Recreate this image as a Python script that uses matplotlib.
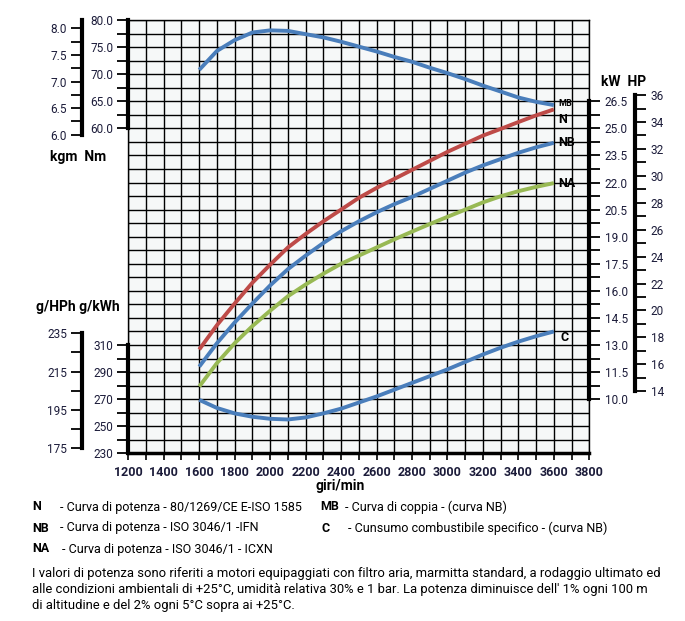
import numpy as np
import matplotlib.pyplot as plt

plt.rcParams['font.family'] = ['Liberation Sans Narrow', 'Roboto', 'DejaVu Sans']

# giri/min
rpm = [1600, 1700, 1800, 1900, 2000, 2100, 2200, 2300, 2400, 2500, 2600,
       2700, 2800, 2900, 3000, 3100, 3200, 3300, 3400, 3500, 3600]

# MB - coppia (Nm)
torque_mb = [70.8, 74.3, 76.3, 77.7, 78.1, 78.0, 77.4, 76.8, 76.0, 75.1, 74.2,
             73.2, 72.3, 71.2, 70.2, 69.1, 67.9, 66.8, 65.7, 64.9, 64.3]

# potenza (kW)
power_n = [12.75, 14.1, 15.3, 16.45, 17.45, 18.4, 19.15, 19.85, 20.5, 21.15, 21.7,
           22.2, 22.7, 23.2, 23.7, 24.15, 24.6, 24.97, 25.35, 25.72, 26.05]
power_nb = [11.8, 13.1, 14.25, 15.3, 16.3, 17.2, 17.95, 18.65, 19.3, 19.85, 20.35,
            20.8, 21.2, 21.65, 22.1, 22.55, 22.95, 23.3, 23.65, 23.95, 24.2]
power_na = [10.7, 12.0, 13.1, 14.05, 14.9, 15.7, 16.35, 16.95, 17.5, 17.95, 18.4,
            18.85, 19.28, 19.7, 20.1, 20.5, 20.9, 21.24, 21.52, 21.76, 21.97]

# C - consumo specifico (g/kWh)
consumo_c = [269.5, 263.5, 259.5, 257.0, 255.5, 255.0, 256.5, 259.5, 263.0, 267.5, 272.0,
             277.0, 282.0, 287.0, 292.0, 297.5, 303.0, 308.0, 312.5, 316.5, 320.0]

blue = '#4a7ebb'
red = '#be4b48'
green = '#98b954'
txt = '#1c1c3a'

fig = plt.figure(figsize=(6.85, 6.21), dpi=100)
box = [0.1873, 0.2700, 0.6730, 0.6977]

# grid
ax = fig.add_axes(box)
ax.set_facecolor('#f6f8f8')
ax.set_xlim(1200, 3800)
ax.set_ylim(0, 32)
xt = list(range(1200, 3801, 100))
ax.set_xticks(xt)
ax.set_xticklabels([str(v) if v % 200 == 0 else '' for v in xt],
                   fontweight='bold', fontsize=9, color=txt)
ax.set_yticks(range(0, 33))
ax.tick_params(axis='y', length=0, labelleft=False)
ax.tick_params(axis='x', length=5, width=1.2, pad=4)
ax.grid(True, color='black', lw=1.0)
for s in ax.spines.values():
    s.set_linewidth(1.0)
ax.spines['bottom'].set_linewidth(2.5)


def overlay(rect, ylim, side, bounds, ticks, labels):
    a = fig.add_axes(rect, facecolor='none')
    a.set_xlim(1200, 3800)
    a.set_ylim(*ylim)
    a.xaxis.set_visible(False)
    for k in ['top', 'bottom', 'left', 'right']:
        a.spines[k].set_visible(k == side)
    a.spines[side].set_bounds(*bounds)
    a.spines[side].set_linewidth(3)
    if side == 'right':
        a.yaxis.tick_right()
    a.set_yticks(ticks)
    a.set_yticklabels(labels)
    a.tick_params(axis='y', length=8, width=1.3, pad=3, labelsize=8.5, labelcolor=txt)
    return a


# Nm
nm_ticks = np.arange(60, 80.1, 2.5)
ax_nm = overlay(box, (0, 80), 'left', (60, 80), nm_ticks,
                [f'{v:.1f}' if v % 5 == 0 else '' for v in nm_ticks])
# kW
kw_ticks = np.arange(10, 26.6, 0.75)
ax_kw = overlay(box, (7, 31), 'right', (10, 26.5), kw_ticks,
                [f'{v:.1f}' if i % 2 == 0 else '' for i, v in enumerate(kw_ticks)])
# g/kWh
g_ticks = np.arange(230, 311, 10)
ax_g = overlay(box, (230, 550), 'left', (230, 310), g_ticks,
               [f'{v}' if (v - 230) % 20 == 0 else '' for v in g_ticks])

# outer scales
x_out = 82.3 / 685
kgm_ticks = np.arange(6.0, 8.01, 0.25)
overlay([x_out, box[1], 0.0001, box[3]], (0, 80 / 9.80665), 'left', (6.0, 80 / 9.80665),
        kgm_ticks, [f'{v:.1f}' if i % 2 == 0 else '' for i, v in enumerate(kgm_ticks)])
ghph_ticks = np.arange(175, 236, 10)
overlay([x_out, box[1], 0.0001, box[3]], (172.1, 399.3), 'left', (175, 235),
        ghph_ticks, [f'{v}' if (v - 175) % 20 == 0 else '' for v in ghph_ticks])
hp_ticks = np.arange(14, 37, 1)
overlay([635.3 / 685 - 0.0001, box[1], 0.0001, box[3]], (7 / 0.7457, 31 / 0.7457), 'right',
        (14, 36), hp_ticks, [f'{v}' if v % 2 == 0 else '' for v in hp_ticks])

# curves
lw = 2.8
ax_nm.plot(rpm, torque_mb, color=blue, lw=lw, solid_capstyle='butt')
ax_kw.plot(rpm, power_n, color=red, lw=lw, solid_capstyle='butt')
ax_kw.plot(rpm, power_nb, color=blue, lw=lw, solid_capstyle='butt')
ax_kw.plot(rpm, power_na, color=green, lw=lw, solid_capstyle='butt')
ax_g.plot(rpm, consumo_c, color=blue, lw=lw, solid_capstyle='butt')

lab = dict(fontweight='bold', color='black', va='center', ha='left', clip_on=False)
ax_nm.text(3625, torque_mb[-1] + 0.3, 'MB', fontsize=6.5, **lab)
ax_kw.text(3625, power_n[-1] - 0.55, 'N', fontsize=9, **lab)
ax_kw.text(3625, power_nb[-1], 'NB', fontsize=9, **lab)
ax_kw.text(3625, power_na[-1] - 0.05, 'NA', fontsize=9, **lab)
ax_g.text(3640, consumo_c[-1] - 4.5, 'C', fontsize=9, **lab)

# axis titles
bold = dict(fontweight='bold', fontsize=10, color='black', va='center')
fig.text(50 / 685, 1 - 157 / 621, 'kgm  Nm', **bold)
fig.text(601 / 685, 1 - 82 / 621, 'kW  HP', **bold)
fig.text(36 / 685, 1 - 307 / 621, 'g/HPh g/kWh', **bold)
fig.text(340 / 685, 1 - 486 / 621, 'giri/min', ha='center', **bold)

# legend
leg = [
    (32, 60, 507, 'N', '- Curva di potenza - 80/1269/CE E-ISO 1585'),
    (32, 60, 528, 'NB', '- Curva di potenza - ISO 3046/1 -IFN'),
    (32, 62, 549, 'NA', '- Curva di potenza - ISO 3046/1 - ICXN'),
    (320, 345, 507, 'MB', '- Curva di coppia - (curva NB)'),
    (322, 348, 528, 'C', '- Cunsumo combustibile specifico - (curva NB)'),
]
for x0, x1, y, code, desc in leg:
    fig.text(x0 / 685, 1 - y / 621, code, fontweight='bold', fontsize=9, va='center')
    fig.text(x1 / 685, 1 - y / 621, desc, fontsize=9, va='center')

note = ["I valori di potenza sono riferiti a motori equipaggiati con filtro aria, marmitta standard, a rodaggio ultimato ed",
        "alle condizioni ambientali di +25°C, umidità relativa 30% e 1 bar. La potenza diminuisce dell' 1% ogni 100 m",
        "di altitudine e del 2% ogni 5°C sopra ai +25°C."]
for i, line in enumerate(note):
    fig.text(32 / 685, 1 - (574 + 16 * i) / 621, line, fontsize=9.4, va='center')

fig.savefig('out.png', dpi=100)
